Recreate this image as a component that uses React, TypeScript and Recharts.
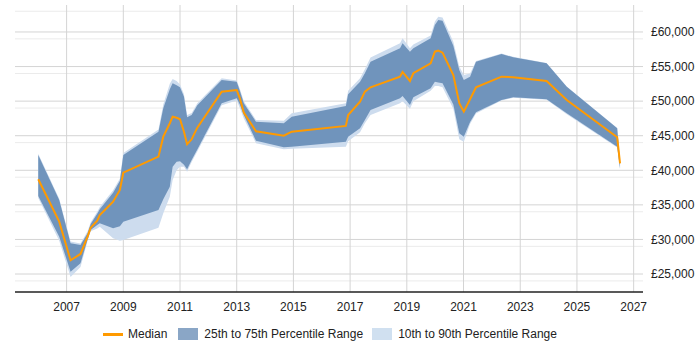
import React from "react";
import {
  ComposedChart, Area, Line, XAxis, YAxis, CartesianGrid,
} from "recharts";

// sample dates (fractional years)
const YEARS = [
  2006.0, 2006.74, 2007.14, 2007.49, 2007.74, 2007.85, 2008.08, 2008.17, 2008.64, 2008.88,
  2009.0, 2010.24, 2010.41, 2010.64, 2010.74, 2010.88, 2011.0, 2011.14, 2011.25, 2011.41,
  2011.61, 2012.47, 2013.0, 2013.11, 2013.25, 2013.68, 2014.66, 2014.94, 2016.85, 2016.93,
  2017.35, 2017.52, 2017.72, 2018.76, 2018.85, 2019.11, 2019.23, 2019.84, 2019.99, 2020.11,
  2020.26, 2020.64, 2020.85, 2021.01, 2021.23, 2021.44, 2022.34, 2022.75, 2023.93, 2024.64,
  2026.42, 2026.52,
];

const MEDIAN = [
  38700, 32570, 26990, 27900, 30400, 31700, 32710, 33540, 35460, 37150,
  39650, 41970, 44860, 46800, 47750, 47600, 47380, 45580, 43760, 44480,
  46160, 51370, 51610, 50410, 48340, 45640, 45000, 45580, 46410, 48000,
  49920, 51370, 52000, 53540, 54220, 52910, 54030, 55470, 57150, 57300,
  57010, 53780, 49690, 48480, 50270, 52000, 53540, 53450, 52910, 50170,
  44770, 41010,
];

const P25 = [
  36290, 30400, 25340, 26550, 30000, 31370, 32100, 32340, 31610, 31900,
  32570, 34260, 35800, 37630, 40520, 41250, 41300, 40800, 40140, 41500,
  43000, 49690, 50410, 49500, 48000, 44280, 43330, 43420, 44140, 44860,
  46080, 47270, 48720, 50410, 50740, 49450, 50560, 51860, 52810, 52700,
  52580, 49500, 45350, 44860, 47000, 48400, 50170, 50560, 50270, 48240,
  43420, 40290,
];

const P75 = [
  42210, 35710, 29450, 29200, 30900, 32240, 33700, 34360, 36760, 38500,
  42210, 45580, 48970, 51700, 52580, 52300, 52000, 50640, 47670, 48000,
  49400, 53060, 52810, 51500, 49690, 47030, 46800, 47750, 49300, 51000,
  52810, 54030, 55710, 57640, 58370, 57150, 57640, 59090, 61010, 61740,
  61640, 58000, 54510, 53060, 53540, 55710, 56820, 56340, 55470, 52090,
  46080, 41200,
];

const P10 = [
  36000, 29800, 24570, 26000, 29800, 31200, 31600, 31850, 30170, 29800,
  29920, 31700, 33780, 36180, 38600, 40000, 40500, 40500, 39800, 41200,
  42700, 49400, 50100, 49000, 47500, 43910, 43040, 43100, 43420, 44200,
  45500, 46800, 48000, 49690, 50000, 48900, 50000, 51500, 52190, 52200,
  52000, 48900, 44500, 44140, 46700, 48200, 50100, 50500, 50200, 48100,
  43300, 40100,
];

const P90 = [
  42400, 35900, 29700, 29400, 31200, 32500, 34000, 34700, 37100, 38800,
  42500, 45900, 49500, 52500, 53200, 52900, 52400, 51000, 48000, 48300,
  49700, 53300, 53000, 51800, 50000, 47270, 47170, 48240, 49690, 51500,
  53300, 54600, 56300, 58370, 59090, 57640, 58200, 59500, 61500, 62210,
  62100, 58600, 55000, 53780, 54000, 55800, 56900, 56400, 55500, 52100,
  46100, 41300,
];

const X_TICKS = [2007, 2009, 2011, 2013, 2015, 2017, 2019, 2021, 2023, 2025, 2027];
const Y_TICKS = [25000, 30000, 35000, 40000, 45000, 50000, 55000, 60000];
const Y_MINOR = [
  23000, 24000, 26000, 27000, 28000, 29000, 31000, 32000, 33000, 34000,
  36000, 37000, 38000, 39000, 41000, 42000, 43000, 44000, 46000, 47000,
  48000, 49000, 51000, 52000, 53000, 54000, 56000, 57000, 58000, 59000,
  61000, 62000, 63000,
];

const data = YEARS.map((x, i) => ({
  x,
  median: MEDIAN[i],
  iqr: [P25[i], P75[i]],
  wide: [P10[i], P90[i]],
}));

const FONT = "'Liberation Sans', Arial, sans-serif";
const DARK = "#7094bc";
const LIGHT = "#cddcee";
const ORANGE = "#ff9a00";

const fmt = (v: number) => "£" + v.toLocaleString("en-GB");

export default function App() {
  return (
    <div style={{ position: "absolute", left: 0, top: 0, width: 700, height: 350, fontFamily: FONT }}>
      <ComposedChart width={700} height={350} data={data} margin={{ top: 5, right: 0, bottom: 28, left: 15 }}>
        <CartesianGrid horizontal={true} vertical={false} horizontalValues={Y_MINOR} stroke="#ebebeb" />
        <CartesianGrid horizontalValues={Y_TICKS} verticalValues={X_TICKS} stroke="#d4d4d4" />
        <XAxis
          dataKey="x"
          type="number"
          domain={[2005.18, 2027.33]}
          ticks={X_TICKS}
          allowDataOverflow
          tickLine={false}
          axisLine={{ stroke: "#222", strokeWidth: 1.5 }}
          height={30}
          tick={{ fill: "#222", fontSize: 12, fontFamily: FONT }}
          tickMargin={4}
        />
        <YAxis
          orientation="right"
          type="number"
          domain={[22400, 63900]}
          ticks={Y_TICKS}
          allowDataOverflow
          axisLine={false}
          tickLine={false}
          width={57}
          tickFormatter={fmt}
          tick={{ fill: "#222", fontSize: 12, fontFamily: FONT }}
        />
        <Area type="linear" dataKey="wide" stroke="none" fill={LIGHT} fillOpacity={1} isAnimationActive={false} />
        <Area type="linear" dataKey="iqr" stroke="none" fill={DARK} fillOpacity={1} isAnimationActive={false} />
        <Line type="linear" dataKey="median" stroke={ORANGE} strokeWidth={2} dot={false} isAnimationActive={false} />
      </ComposedChart>
      <div style={{ position: "absolute", top: 327, left: 103, display: "flex", alignItems: "center", fontSize: 12, color: "#222", whiteSpace: "nowrap" }}>
        <span style={{ display: "inline-block", width: 20, height: 3, background: ORANGE, marginRight: 5 }} />
        <span style={{ marginRight: 11 }}>Median</span>
        <span style={{ display: "inline-block", width: 20, height: 12, background: "#8aa6c6", marginRight: 6 }} />
        <span style={{ marginRight: 9 }}>25th to 75th Percentile Range</span>
        <span style={{ display: "inline-block", width: 20, height: 12, background: "#d0e0f0", marginRight: 6 }} />
        <span>10th to 90th Percentile Range</span>
      </div>
    </div>
  );
}
